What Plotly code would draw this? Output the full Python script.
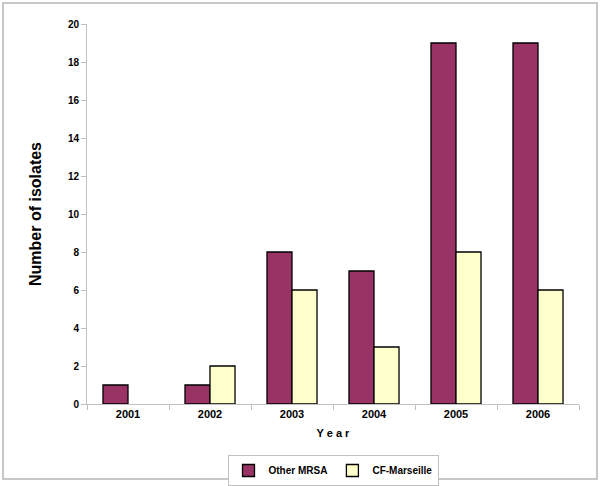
import plotly.graph_objects as go

years = ["2001", "2002", "2003", "2004", "2005", "2006"]
other_mrsa = [1, 1, 8, 7, 19, 19]
cf_marseille = [0, 2, 6, 3, 8, 6]
y_ticks = [0, 2, 4, 6, 8, 10, 12, 14, 16, 18, 20]

fig = go.Figure()
fig.add_trace(go.Bar(x=years, y=[v if v else None for v in other_mrsa], name="Other MRSA",
                     marker=dict(color="#993366", line=dict(color="black", width=1.3))))
fig.add_trace(go.Bar(x=years, y=[v if v else None for v in cf_marseille], name="CF-Marseille",
                     marker=dict(color="#FFFFCC", line=dict(color="black", width=1.3))))

L, R, T, B = 87, 21, 24, 82
W, H = 600, 486
pw, ph = W - L - R, H - T - B

fig.update_layout(
    width=W, height=H,
    margin=dict(l=L, r=R, t=T, b=B),
    paper_bgcolor="white", plot_bgcolor="white",
    barmode="group", bargap=0.39, bargroupgap=0.0,
    font=dict(family="Liberation Sans, Arial", color="black"),
    xaxis=dict(
        type="category", tickson="boundaries", ticks="outside", ticklen=5,
        tickcolor="#c0c0c0", showline=True, linecolor="#c0c0c0", linewidth=1,
        tickfont=dict(size=11, family="Liberation Sans, Arial", weight="bold"),
        title=dict(text="<b>Y e a r</b>", font=dict(size=11), standoff=10),
        showgrid=False,
    ),
    yaxis=dict(
        range=[0, 20], tickvals=y_ticks, ticks="outside", ticklen=5,
        tickcolor="#c0c0c0", showline=True, linecolor="#c0c0c0", linewidth=1,
        tickfont=dict(size=10, weight="bold"),
        showgrid=False, zeroline=False,
        title=dict(text="<b>Number of isolates</b>",
                   font=dict(size=16, family="Liberation Sans Narrow, Arial Narrow, Liberation Sans"),
                   standoff=22),
    ),
    legend=dict(orientation="h", x=0.5, xanchor="center",
                yref="container", y=(H - 455) / H, yanchor="top",
                bordercolor="#c0c0c0", borderwidth=1,
                font=dict(size=10, weight="bold"), itemwidth=30),
    shapes=[dict(type="rect", xref="paper", yref="paper",
                 x0=(3 - L) / pw, x1=(597 - L) / pw,
                 y0=(H - B - 479) / ph, y1=(H - B - 3) / ph,
                 line=dict(color="#c8c8c8", width=2))],
)

fig.write_html("out.html", config={"displayModeBar": False},
               post_script="document.body.style.margin='0';document.body.style.overflow='hidden';")
